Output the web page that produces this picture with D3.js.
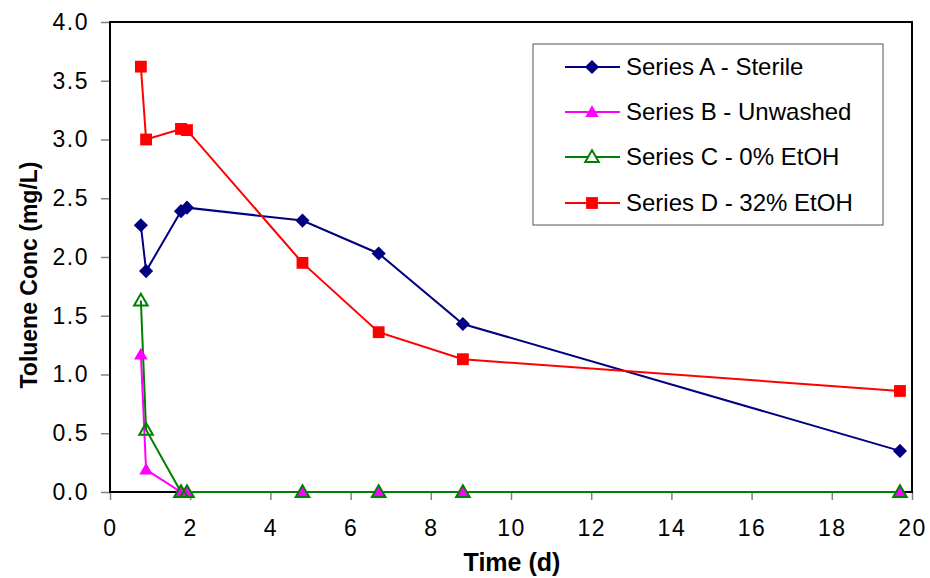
<!DOCTYPE html>
<html>
<head>
<meta charset="utf-8">
<script src="https://cdn.jsdelivr.net/npm/d3@7/dist/d3.min.js"></script>
<style>
  html, body { margin: 0; padding: 0; background: #fff; }
  svg { display: block; font-family: "Liberation Sans", Arial, sans-serif; }
</style>
</head>
<body>
<svg id="chart" width="930" height="578"></svg>
<script>
// Sampling times (days)
const times = [0.77, 0.9, 1.77, 1.92, 4.8, 6.7, 8.8, 19.7];

// Toluene concentration (mg/L) per series
const seriesA = [2.27, 1.88, 2.39, 2.42, 2.31, 2.03, 1.43, 0.35];
const seriesB = [1.17, 0.19, 0, 0, 0, 0, 0, 0];
const seriesC = [1.63, 0.53, 0, 0, 0, 0, 0, 0];
const seriesD = [3.62, 3.00, 3.09, 3.08, 1.95, 1.36, 1.13, 0.86];

const seriesNames = [
  "Series A - Sterile",
  "Series B - Unwashed",
  "Series C - 0% EtOH",
  "Series D - 32% EtOH"
];

const xTicks = [0, 2, 4, 6, 8, 10, 12, 14, 16, 18, 20];
const yTicks = [0, 0.5, 1.0, 1.5, 2.0, 2.5, 3.0, 3.5, 4.0];

// Square rotated 45 degrees for the diamond marker
const symbolDiamondSq = {
  draw(ctx, size) {
    const r = Math.sqrt(size / 2);
    ctx.moveTo(0, -r); ctx.lineTo(r, 0); ctx.lineTo(0, r); ctx.lineTo(-r, 0); ctx.closePath();
  }
};

const series = [
  { name: seriesNames[0], values: seriesA, color: "#000080", symbol: symbolDiamondSq, size: 100, fill: "#000080" },
  { name: seriesNames[1], values: seriesB, color: "#FF00FF", symbol: d3.symbolTriangle, size: 80, fill: "#FF00FF" },
  { name: seriesNames[2], values: seriesC, color: "#008000", symbol: d3.symbolTriangle, size: 80, fill: "none", legendFill: "#fff" },
  { name: seriesNames[3], values: seriesD, color: "#FF0000", symbol: d3.symbolSquare, size: 140, fill: "#FF0000" }
];

const svg = d3.select("#chart");
const plot = { left: 110, top: 22, right: 912, bottom: 492 };

const x = d3.scaleLinear().domain([0, 20]).range([plot.left, plot.right]);
const y = d3.scaleLinear().domain([0, 4]).range([plot.bottom, plot.top]);

// Axes
const xAxis = svg.append("g")
  .attr("transform", `translate(0,${plot.bottom})`)
  .call(d3.axisBottom(x).tickValues(xTicks).tickFormat(d3.format("d")).tickSize(8).tickPadding(20));
const yAxis = svg.append("g")
  .attr("transform", `translate(${plot.left},0)`)
  .call(d3.axisLeft(y).tickValues(yTicks).tickFormat(d3.format(".1f")).tickSize(9).tickPadding(12));

[xAxis, yAxis].forEach(g => {
  g.select(".domain").remove();
  g.selectAll(".tick line").attr("stroke", "#808080").attr("stroke-width", 1.5);
  g.selectAll(".tick text").attr("fill", "#000").style("font-size", "23px")
    .style("letter-spacing", "1.5px")
    .style("font-family", "'Liberation Sans', Arial, sans-serif");
});

// Plot frame
svg.append("rect")
  .attr("x", plot.left).attr("y", plot.top)
  .attr("width", plot.right - plot.left).attr("height", plot.bottom - plot.top)
  .attr("fill", "none").attr("stroke", "#000").attr("stroke-width", 2);

// Series lines and markers
const line = d3.line().x((d, i) => x(times[i])).y(d => y(d));

series.forEach(s => {
  svg.append("path")
    .datum(s.values)
    .attr("d", line)
    .attr("fill", "none")
    .attr("stroke", s.color)
    .attr("stroke-width", 2);
});

series.forEach(s => {
  const sym = d3.symbol().type(s.symbol).size(s.size);
  svg.append("g").selectAll("path")
    .data(s.values)
    .join("path")
    .attr("d", sym)
    .attr("transform", (d, i) => `translate(${x(times[i])},${y(d) + (s.symbol === d3.symbolTriangle ? 1 : 0)})`)
    .attr("fill", s.fill)
    .attr("stroke", s.fill === "none" ? s.color : "none")
    .attr("stroke-width", 2);
});

// Axis titles
svg.append("text")
  .attr("x", (plot.left + plot.right) / 2 + 1).attr("y", 571)
  .attr("text-anchor", "middle")
  .style("font-size", "25px").style("font-weight", "bold")
  .text("Time (d)");

svg.append("text")
  .attr("transform", `translate(37,${(plot.top + plot.bottom) / 2 + 18}) rotate(-90)`)
  .attr("text-anchor", "middle")
  .style("font-size", "23px").style("font-weight", "bold")
  .text("Toluene Conc (mg/L)");

// Legend
const legend = svg.append("g");
legend.append("rect")
  .attr("x", 533).attr("y", 44).attr("width", 350).attr("height", 181)
  .attr("fill", "#fff").attr("stroke", "#555").attr("stroke-width", 1);

const rowY = [67, 112, 157, 203];
series.forEach((s, i) => {
  const g = legend.append("g").attr("transform", `translate(0,${rowY[i]})`);
  g.append("line").attr("x1", 565).attr("x2", 620).attr("y1", 0).attr("y2", 0)
    .attr("stroke", s.color).attr("stroke-width", 2);
  g.append("path")
    .attr("d", d3.symbol().type(s.symbol).size(s.size)())
    .attr("transform", `translate(592,${s.symbol === d3.symbolTriangle ? 1 : 0})`)
    .attr("fill", s.legendFill || s.fill)
    .attr("stroke", s.fill === "none" ? s.color : "none")
    .attr("stroke-width", 2);
  g.append("text").attr("x", 626).attr("y", 8)
    .style("font-size", "24px")
    .text(s.name);
});
</script>
</body>
</html>
